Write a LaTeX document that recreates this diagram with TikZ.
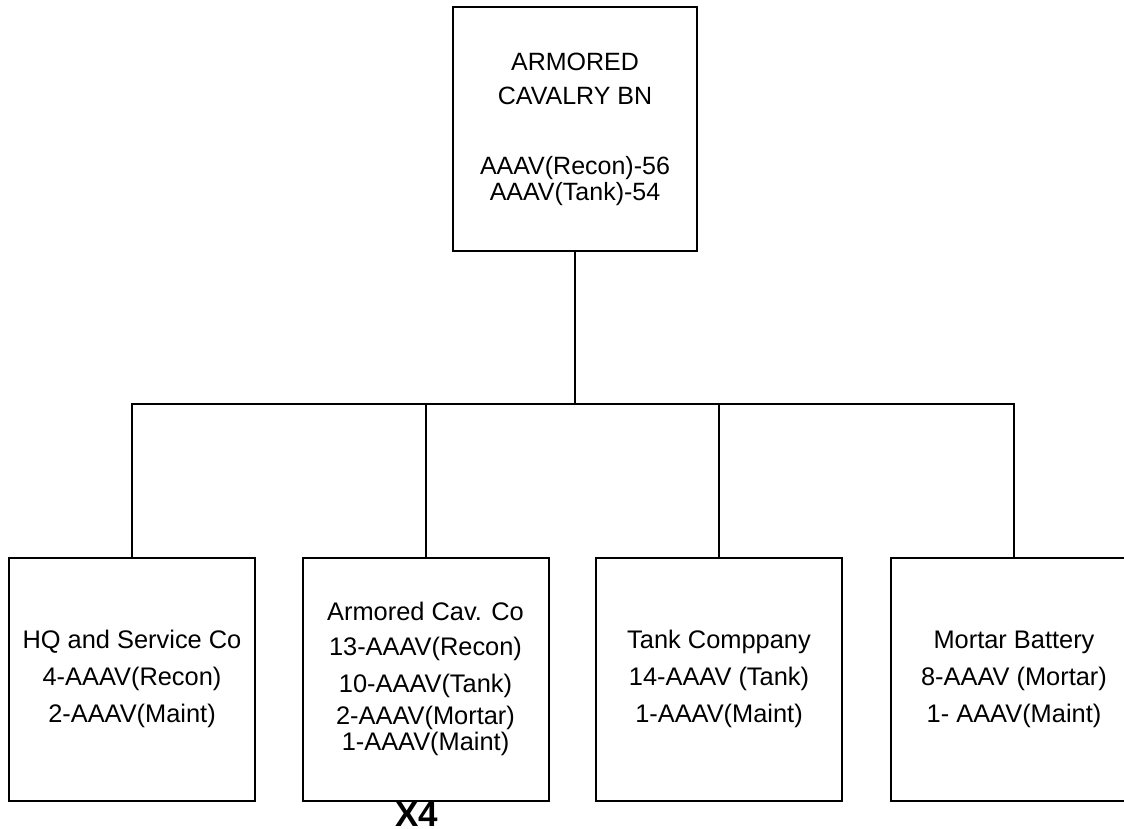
\documentclass[tikz,border=0pt]{standalone}
\usepackage{fontspec}
\setmainfont{Liberation Sans}
\usepackage{tikz}
\usetikzlibrary{positioning}

\begin{document}
\begin{tikzpicture}[x=0.5pt, y=-0.5pt,
    unit/.style={draw, line width=1pt, align=center, inner sep=0pt,
        minimum width=123pt, minimum height=121.5pt},
    topunit/.style={unit, minimum width=122pt,
        font=\fontsize{12.5}{17}\selectfont},
    subunit/.style={unit, font=\fontsize{12.7}{18.5}\selectfont},
    link/.style={line width=1pt}]
    % page frame
    \useasboundingbox (0,0) rectangle (1124,829);
    \clip (0,0) rectangle (1124,829);

    % Battalion
    \node[topunit] (bn) at (575,129)
        {ARMORED\\CAVALRY BN\\[18pt]AAAV(Recon)-56\\[-4pt]AAAV(Tank)-54};

    % Companies
    \node[subunit] (hq) at (132,679)
        {HQ and Service Co\\4-AAAV(Recon)\\2-AAAV(Maint)};
    \node[subunit] (cav) at (425.5,679)
        {Armored Cav. Co\\[-1pt]13-AAAV(Recon)\\10-AAAV(Tank)\\[-2.5pt]2-AAAV(Mortar)\\[-5.5pt]1-AAAV(Maint)};
    \node[subunit] (tank) at (719,679)
        {Tank Comppany\\14-AAAV (Tank)\\1-AAAV(Maint)};
    \node[subunit] (mortar) at (1014,679)
        {Mortar Battery\\8-AAAV (Mortar)\\1- AAAV(Maint)};

    \node[font=\bfseries\fontsize{17.5}{19}\selectfont, inner sep=0pt] (times) at (417,814.5) {X4};

    % Lines
    \coordinate (bus) at (575,404);
    \draw[link] (bn.south) -- (bus);
    \foreach \co in {hq,cav,tank,mortar}
        \draw[link] (bus) -| (\co.north);
\end{tikzpicture}
\end{document}
